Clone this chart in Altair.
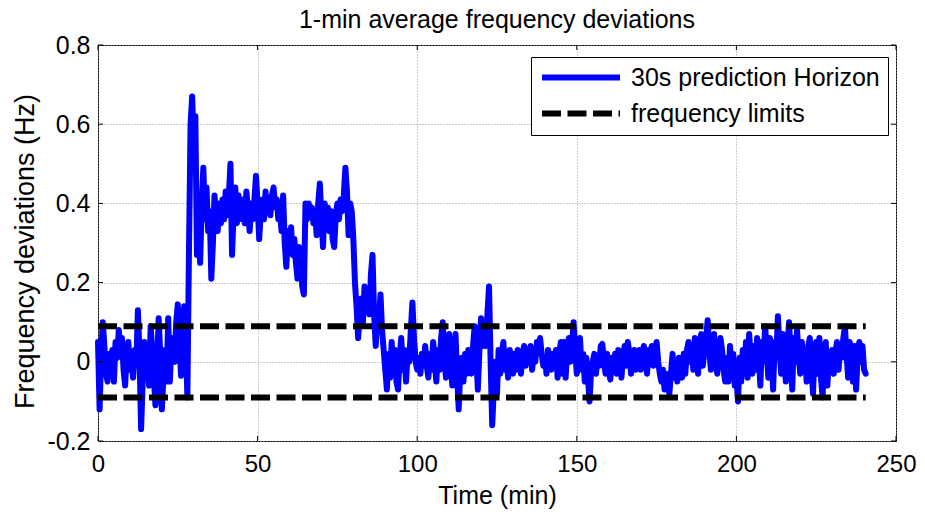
import altair as alt
import pandas as pd

# ---------------- data (0.5-min steps) ----------------
freq_dev = (
    # 0 - 9.5
    [0.05, -0.12, 0.02, 0.10, 0.04, -0.03, -0.05, 0.02, -0.02, 0.03,
     -0.05, 0.05, 0.01, 0.08, 0.03, 0.06, -0.02, -0.06, 0.02, 0.05]
    # 10 - 19.5
    + [-0.02, 0.00, -0.04, 0.03, -0.01, 0.13, 0.02, -0.17, -0.05, 0.05,
       -0.03, 0.00, -0.06, 0.09, 0.03, -0.04, -0.11, -0.02, 0.11, 0.02]
    # 20 - 29.5
    + [-0.12, -0.04, 0.03, -0.05, 0.11, -0.05, 0.04, 0.06, 0.00, 0.10,
       0.145, 0.06, -0.035, 0.08, 0.14, 0.06, -0.09, 0.28, 0.60, 0.67]
    # 30 - 39.5
    + [0.55, 0.62, 0.27, 0.38, 0.25, 0.40, 0.49, 0.36, 0.44, 0.33,
       0.38, 0.21, 0.30, 0.42, 0.37, 0.33, 0.40, 0.35, 0.41, 0.36]
    # 40 - 49.5
    + [0.43, 0.37, 0.42, 0.50, 0.27, 0.38, 0.44, 0.35, 0.42, 0.38,
       0.36, 0.41, 0.35, 0.43, 0.38, 0.33, 0.40, 0.36, 0.41, 0.47]
    # 50 - 59.5
    + [0.40, 0.31, 0.38, 0.41, 0.36, 0.43, 0.38, 0.41, 0.37, 0.42,
       0.44, 0.39, 0.41, 0.36, 0.38, 0.33, 0.42, 0.30, 0.24, 0.33]
    # 60 - 69.5
    + [0.29, 0.34, 0.27, 0.31, 0.25, 0.21, 0.29, 0.24, 0.19, 0.17,
       0.40, 0.36, 0.40, 0.37, 0.39, 0.35, 0.38, 0.32, 0.40, 0.45]
    # 70 - 79.5
    + [0.36, 0.29, 0.40, 0.35, 0.39, 0.33, 0.38, 0.31, 0.29, 0.37,
       0.40, 0.36, 0.41, 0.38, 0.42, 0.49, 0.43, 0.32, 0.40, 0.38]
    # 80 - 89.5
    + [0.31, 0.20, 0.14, 0.06, 0.12, 0.16, 0.10, 0.19, 0.14, 0.18,
       0.12, 0.22, 0.27, 0.12, 0.04, 0.12, 0.10, 0.17, 0.08, 0.03]
    # 90 - 99.5
    + [-0.02, -0.07, 0.02, -0.04, 0.05, -0.03, 0.03, -0.05, -0.07, 0.01,
       0.06, -0.02, 0.03, -0.05, 0.02, 0.00, 0.08, 0.15, 0.06, 0.00]
    # 100 - 109.5
    + [-0.02, 0.01, -0.03, 0.02, -0.01, 0.04, -0.01, -0.04, 0.02, -0.02,
       0.05, 0.00, -0.05, 0.03, -0.02, 0.06, 0.10, 0.02, -0.04, 0.04]
    # 110 - 119.5
    + [0.07, -0.01, -0.06, 0.02, 0.07, -0.03, -0.12, -0.02, 0.01, -0.05,
       0.02, -0.03, 0.03, -0.01, -0.03, 0.04, 0.09, 0.02, -0.07, 0.03]
    # 120 - 129.5
    + [0.11, 0.04, 0.10, 0.04, 0.12, 0.19, 0.00, -0.16, -0.07, 0.00,
       -0.08, 0.03, -0.03, 0.02, 0.05, -0.02, 0.00, -0.04, 0.03, -0.01]
    # 130 - 139.5
    + [-0.03, 0.02, -0.02, 0.03, 0.00, -0.03, 0.02, 0.04, -0.01, 0.03,
       0.01, 0.04, -0.02, 0.02, 0.00, 0.05, 0.03, 0.06, 0.02, -0.01]
    # 140 - 149.5
    + [0.01, -0.03, 0.03, 0.00, -0.02, 0.02, -0.01, 0.03, -0.04, 0.02,
       0.05, -0.03, 0.05, -0.04, 0.03, 0.06, 0.00, 0.04, 0.10, 0.03]
    # 150 - 159.5
    + [-0.03, 0.04, 0.06, -0.02, 0.02, -0.05, 0.01, -0.04, -0.10, -0.02,
       0.00, 0.02, -0.03, 0.01, -0.01, 0.04, 0.045, 0.00, -0.03, 0.02]
    # 160 - 169.5
    + [-0.02, -0.045, 0.01, -0.02, 0.02, -0.03, 0.03, 0.00, -0.04, 0.02,
       0.04, -0.01, 0.05, 0.02, -0.03, 0.01, 0.03, -0.02, 0.00, 0.03]
    # 170 - 179.5
    + [-0.02, 0.02, 0.04, 0.00, -0.03, 0.03, 0.01, 0.04, -0.01, 0.02,
       0.05, 0.00, -0.03, -0.05, -0.02, -0.07, -0.03, -0.06, -0.08, -0.03]
    # 180 - 189.5
    + [0.02, -0.04, -0.01, -0.05, 0.01, -0.02, -0.04, 0.02, -0.03, 0.03,
       0.05, 0.00, 0.04, -0.02, 0.06, 0.02, -0.03, 0.05, 0.07, -0.01]
    # 190 - 199.5
    + [0.03, 0.06, 0.105, 0.03, -0.02, 0.04, 0.07, 0.00, -0.03, 0.02,
       0.06, 0.03, -0.02, -0.05, 0.01, -0.05, 0.04, -0.03, 0.02, -0.06]
    # 200 - 209.5
    + [-0.04, -0.10, 0.01, -0.05, 0.03, -0.02, 0.05, -0.04, 0.07, 0.01,
       -0.03, 0.04, -0.02, 0.06, 0.02, -0.06, 0.05, 0.00, 0.09, 0.03]
    # 210 - 219.5
    + [-0.04, 0.06, 0.02, -0.07, 0.05, 0.01, 0.115, 0.04, -0.03, 0.07,
       0.00, -0.05, 0.04, 0.10, 0.02, -0.07, 0.06, 0.00, 0.08, 0.02]
    # 220 - 229.5
    + [-0.03, 0.05, -0.02, 0.03, -0.05, 0.04, 0.06, -0.01, -0.08, 0.03,
       0.05, -0.03, 0.06, -0.04, -0.09, 0.02, 0.05, -0.06, 0.01, -0.02]
    # 230 - 240.5
    + [0.03, -0.03, 0.02, 0.05, -0.02, 0.04, 0.01, 0.06, 0.09, 0.02,
       -0.04, 0.05, 0.03, -0.05, 0.04, -0.07, 0.02, 0.05, 0.00, 0.04,
       -0.02, -0.03]
)
time_min = [i * 0.5 for i in range(len(freq_dev))]

limit_time = [0, 240.5]
limit_upper = 0.09
limit_lower = -0.09

series_names = ["30s prediction Horizon", "frequency limits"]
x_ticks = [0, 50, 100, 150, 200, 250]
y_ticks = [-0.2, 0, 0.2, 0.4, 0.6, 0.8]

# ---------------- tables ----------------
line_df = pd.DataFrame({"t": time_min, "v": freq_dev, "series": series_names[0], "grp": "data"})
lim_df = pd.DataFrame({
    "t": limit_time + limit_time,
    "v": [limit_upper] * 2 + [limit_lower] * 2,
    "series": series_names[1],
    "grp": ["up", "up", "lo", "lo"],
})
xt_df = pd.DataFrame({"t": x_ticks})
yt_df = pd.DataFrame({"v": y_ticks})

FONT = "Liberation Sans"
W, H = 798, 396

xscale = alt.Scale(domain=[0, 250], nice=False, zero=False)
yscale = alt.Scale(domain=[-0.2, 0.8], nice=False, zero=False)

color_enc = alt.Color(
    "series:N",
    scale=alt.Scale(domain=series_names, range=["#0000ff", "#000000"]),
    title=None,
)
dash_enc = alt.StrokeDash(
    "series:N",
    scale=alt.Scale(domain=series_names, range=[[1, 0], [19, 6.5]]),
    title=None,
)

x_enc = alt.X(
    "t:Q", scale=xscale, title="Time (min)",
    axis=alt.Axis(values=x_ticks, grid=True, ticks=False, tickSize=0, domain=False,
                  labelFontSize=24, labelFont=FONT, labelColor="black", labelPadding=11,
                  labelFlush=False,
                  titleFont=FONT, titleFontSize=25, titleFontWeight="normal", titleColor="black",
                  titleX=W / 2, titleY=62, titleAlign="center", titleBaseline="alphabetic",
                  gridColor="#999999", gridDash=[1, 2], gridWidth=1),
)
y_enc = alt.Y(
    "v:Q", scale=yscale, title="Frequency deviations (Hz)",
    axis=alt.Axis(values=y_ticks, grid=True, ticks=False, tickSize=0, domain=False,
                  labelFontSize=25, labelFont=FONT, labelColor="black", labelPadding=8,
                  labelFlush=False,
                  labelExpr="'' + datum.value",
                  titleFont=FONT, titleFontSize=27, titleFontWeight="normal", titleColor="black",
                  titleX=-65, titleY=206, titleAngle=270, titleAlign="center",
                  titleBaseline="alphabetic",
                  gridColor="#999999", gridDash=[1, 2], gridWidth=1),
)

data_line = alt.Chart(line_df).mark_line(
    strokeWidth=6, strokeJoin="round", strokeCap="round"
).encode(x=x_enc, y=y_enc, color=color_enc, strokeDash=dash_enc, detail="grp:N")

limit_lines = alt.Chart(lim_df).mark_line(
    strokeWidth=6, strokeCap="butt"
).encode(x=alt.X("t:Q", scale=xscale), y=alt.Y("v:Q", scale=yscale),
         color=color_enc, strokeDash=dash_enc, detail="grp:N")

tick_bottom = alt.Chart(xt_df).mark_rule(color="black", strokeWidth=1).encode(
    x=alt.X("t:Q", scale=xscale), y=alt.value(H), y2=alt.value(H - 5))
tick_top = alt.Chart(xt_df).mark_rule(color="black", strokeWidth=1).encode(
    x=alt.X("t:Q", scale=xscale), y=alt.value(0), y2=alt.value(5))
tick_left = alt.Chart(yt_df).mark_rule(color="black", strokeWidth=1).encode(
    y=alt.Y("v:Q", scale=yscale), x=alt.value(0), x2=alt.value(5))
tick_right = alt.Chart(yt_df).mark_rule(color="black", strokeWidth=1).encode(
    y=alt.Y("v:Q", scale=yscale), x=alt.value(W), x2=alt.value(W - 5))

chart = alt.layer(
    data_line, limit_lines, tick_bottom, tick_top, tick_left, tick_right
).properties(
    width=W, height=H,
    title=alt.TitleParams(
        "1-min average frequency deviations", font=FONT, fontSize=25,
        fontWeight="normal", color="black", anchor="middle", offset=0,
    ),
    autosize=alt.AutoSizeParams(type="none"),
    padding={"left": 90, "top": 37, "right": 21, "bottom": 75},
).configure_view(
    stroke="black", strokeWidth=1
).configure_legend(
    orient="none", legendX=433, legendY=12,
    fillColor="white", strokeColor="black", strokeWidth=1, cornerRadius=0,
    padding=8, rowPadding=10, clipHeight=25,
    symbolType="stroke", symbolSize=6084, symbolStrokeWidth=6,
    labelFont=FONT, labelFontSize=25, labelColor="black", labelOffset=8, labelLimit=400,
)

chart.save("out.html", embed_options={"renderer": "svg", "actions": False})
